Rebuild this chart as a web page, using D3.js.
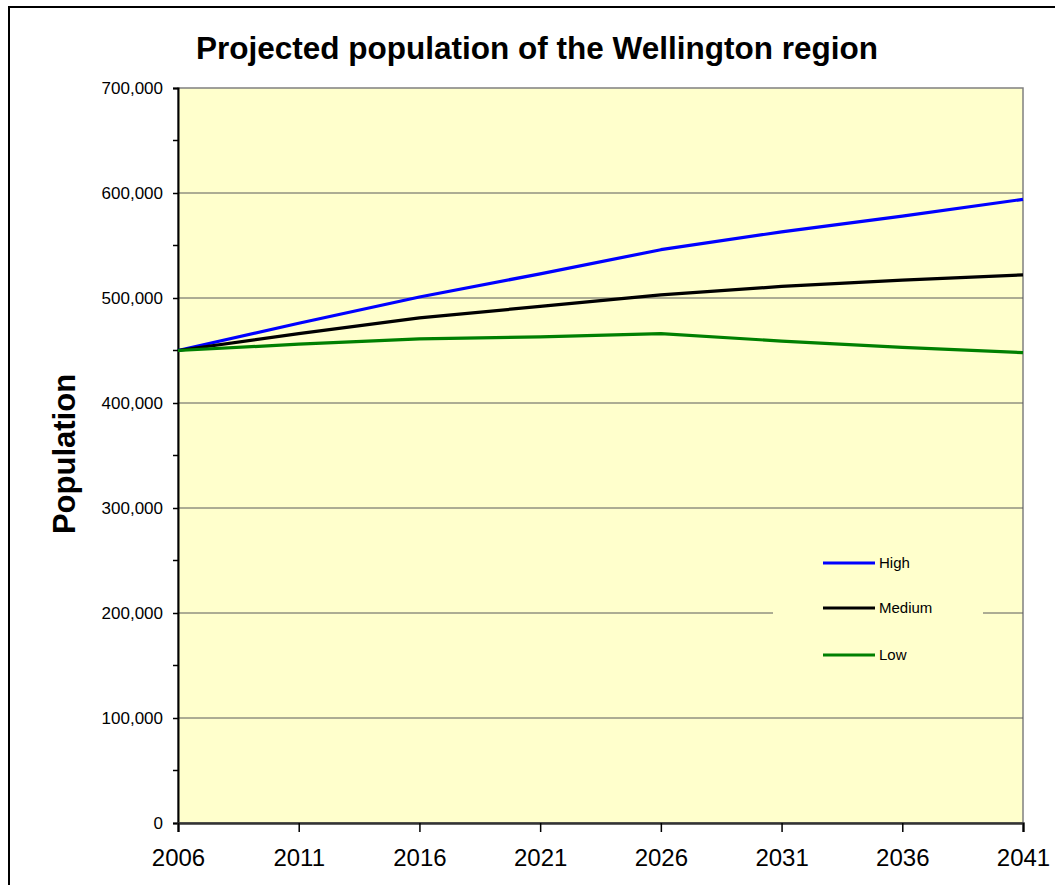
<!DOCTYPE html>
<html><head><meta charset="utf-8">
<script src="https://cdn.jsdelivr.net/npm/d3@7"></script>
<style>body{margin:0;background:#fff}svg{display:block}</style>
</head><body>
<script>
const years = [2006, 2011, 2016, 2021, 2026, 2031, 2036, 2041];
const high = [450000, 476000, 501000, 523000, 546000, 563000, 578000, 594000];
const medium = [450000, 466000, 481000, 492000, 503000, 511000, 517000, 522000];
const low = [450000, 456000, 461000, 463000, 466000, 459000, 453000, 448000];
const seriesNames = ["High", "Medium", "Low"];
const seriesColors = ["#0000FF", "#000000", "#008000"];
const yTicks = [0, 100000, 200000, 300000, 400000, 500000, 600000, 700000];

const W = 1055, H = 885;
const svg = d3.select("body").append("svg").attr("width", W).attr("height", H);
const font = "Liberation Sans, Arial, sans-serif";

// outer border
svg.append("rect").attr("x", 9).attr("y", 7).attr("width", W + 20).attr("height", H + 20)
  .attr("fill", "#fff").attr("stroke", "#000").attr("stroke-width", 2);

const L = 178, R = 1023, T = 88, B = 823;
const x = d3.scaleLinear().domain([2006, 2041]).range([L, R]);
const y = d3.scaleLinear().domain([0, 700000]).range([B, T]);

svg.append("rect").attr("x", L).attr("y", T).attr("width", R - L).attr("height", B - T)
  .attr("fill", "#FFFFCC").attr("stroke", "#808080").attr("stroke-width", 1.5);

// gridlines
svg.append("g").selectAll("line").data(yTicks.slice(1, -1)).join("line")
  .attr("x1", L).attr("x2", R).attr("y1", d => y(d)).attr("y2", d => y(d))
  .attr("stroke", "#5a5a5a").attr("stroke-width", 1);

// y axis
const yAxis = d3.axisLeft(y).tickValues(yTicks).tickSize(5).tickPadding(10)
  .tickFormat(d => d === 0 ? "0" : d3.format(",")(d));
const gy = svg.append("g").attr("transform", `translate(${L},0)`).call(yAxis);
gy.select(".domain").attr("stroke", "#000").attr("stroke-width", 2);
gy.selectAll(".tick line").attr("stroke", "#000").attr("stroke-width", 1.5);
gy.selectAll("text").attr("font-family", font).attr("font-size", 17).attr("fill", "#000");
// minor ticks
svg.append("g").selectAll("line").data(d3.range(50000, 700000, 100000)).join("line")
  .attr("x1", L - 5).attr("x2", L).attr("y1", d => y(d)).attr("y2", d => y(d))
  .attr("stroke", "#000").attr("stroke-width", 1.5);

// x axis
const xAxis = d3.axisBottom(x).tickValues(years).tickSize(9).tickPadding(17).tickFormat(d3.format("d"));
const gx = svg.append("g").attr("transform", `translate(0,${B})`).call(xAxis);
gx.select(".domain").attr("stroke", "#333").attr("stroke-width", 2.5);
gx.selectAll(".tick line").attr("stroke", "#000").attr("stroke-width", 1.5);
gx.selectAll("text").attr("font-family", font).attr("font-size", 24).attr("fill", "#000");

// lines
const data = [high, medium, low];
const line = d3.line().x((d, i) => x(years[i])).y(d => y(d));
svg.append("g").selectAll("path").data(data).join("path")
  .attr("d", d => line(d)).attr("fill", "none")
  .attr("stroke", (d, i) => seriesColors[i]).attr("stroke-width", 3.2)
  .attr("stroke-linejoin", "round");

// legend
const lg = svg.append("g");
lg.append("rect").attr("x", 773).attr("y", 535).attr("width", 210).attr("height", 150).attr("fill", "#FFFFCC");
const ly = [563, 608, 655];
seriesNames.forEach((n, i) => {
  lg.append("line").attr("x1", 823).attr("x2", 875).attr("y1", ly[i]).attr("y2", ly[i])
    .attr("stroke", seriesColors[i]).attr("stroke-width", 3);
  lg.append("text").attr("x", 879).attr("y", ly[i] + 5).text(n)
    .attr("font-family", font).attr("font-size", 15).attr("fill", "#000");
});

// title
svg.append("text").attr("x", 537).attr("y", 59).attr("text-anchor", "middle")
  .attr("font-family", font).attr("font-weight", "bold").attr("font-size", 31.5)
  .text("Projected population of the Wellington region");
svg.append("text").attr("transform", "translate(75,454) rotate(-90)").attr("text-anchor", "middle")
  .attr("font-family", font).attr("font-weight", "bold").attr("font-size", 31)
  .text("Population");
</script>
</body></html>
